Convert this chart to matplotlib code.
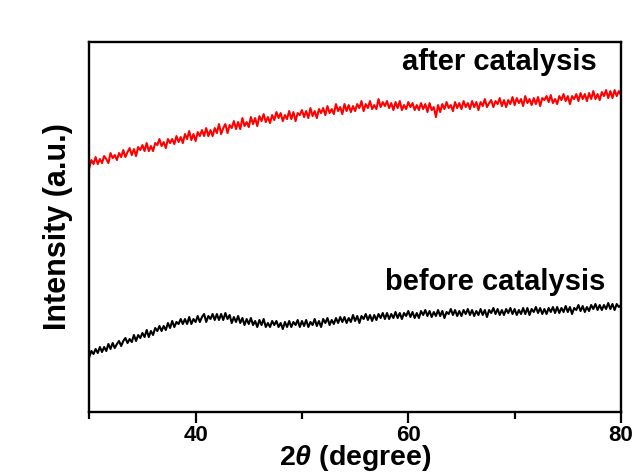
import numpy as np
import matplotlib
matplotlib.use("Agg")
import matplotlib.pyplot as plt
from matplotlib.ticker import FixedLocator, NullLocator

plt.rcParams['font.family'] = ['Liberation Sans', 'DejaVu Sans']
plt.rcParams['font.weight'] = 'bold'
plt.rcParams['mathtext.fontset'] = 'custom'
plt.rcParams['mathtext.it'] = 'Liberation Sans:italic'

# xrd intensity, 5 values per degree (step 0.2) from 30 to 80
after_catalysis = [
    244, 252, 248, 255, 248,  253, 249, 256, 253, 249,  259, 254, 257, 252, 259,
    255, 262, 255, 260, 264,  257, 263, 256, 265, 262,  267, 261, 269, 261, 266,
    261, 269, 267, 273, 266,  270, 264, 273, 269, 273,  268, 276, 270, 275, 269,
    278, 273, 281, 272, 278,  271, 280, 276, 282, 276,  284, 276, 282, 276, 284,
    279, 288, 278, 284, 288,  279, 287, 284, 291, 283,  290, 283, 294, 286, 290,
    285, 295, 288, 294, 286,  296, 291, 298, 290, 295,  289, 297, 292, 300, 294,
    299, 291, 297, 293, 301,  293, 300, 291, 299, 297,  302, 295, 301, 294, 304,
    296, 301, 294, 303, 299,  304, 297, 306, 299, 303,  298, 308, 301, 305, 298,
    308, 301, 307, 300, 306,  301, 308, 304, 311, 301,  308, 304, 311, 303, 307,
    303, 313, 305, 310, 306,  311, 304, 309, 302, 310,  304, 311, 302, 307, 303,
    310, 305, 309, 302, 307,  302, 309, 303, 308, 300,  309, 302, 305, 295, 307,
    300, 308, 303, 310, 304,  307, 301, 310, 304, 309,  303, 311, 305, 309, 303,
    311, 305, 310, 302, 310,  306, 313, 305, 309, 312,  305, 311, 308, 314, 306,
    312, 305, 312, 308, 315,  307, 314, 309, 313, 306,  316, 309, 313, 307, 314,
    308, 315, 306, 314, 312,  316, 310, 317, 309, 313,  308, 316, 312, 318, 311,
    316, 308, 316, 313, 318,  311, 319, 313, 318, 311,  319, 313, 321, 313, 318,
    312, 320, 316, 322, 314,  321, 314, 322, 316, 321,  317,
]
before_catalysis = [
    55, 61, 58, 63, 59,  65, 60, 65, 61, 68,  63, 69, 64, 68, 71,
    66, 71, 74, 69, 73,  70, 77, 71, 77, 74,  79, 75, 82, 75, 81,
    77, 84, 81, 86, 81,  86, 82, 89, 84, 91,  85, 90, 88, 93, 88,
    93, 88, 95, 88, 93,  90, 96, 90, 95, 98,  90, 96, 93, 98, 92,
    98, 92, 98, 92, 99,  93, 97, 89, 95, 90,  96, 89, 94, 87, 93,
    88, 94, 87, 91, 85,  92, 87, 93, 85, 89,  85, 91, 87, 91, 85,
    89, 83, 90, 85, 91,  85, 90, 87, 92, 85,  91, 86, 92, 85, 90,
    87, 93, 86, 91, 85,  93, 89, 94, 87, 92,  88, 94, 89, 95, 90,
    95, 89, 94, 90, 97,  91, 96, 89, 96, 93,  98, 92, 97, 91, 97,
    92, 98, 94, 99, 93,  99, 93, 98, 94, 100,  94, 99, 93, 99, 96,
    101, 95, 100, 94, 99,  94, 101, 97, 102, 96,  101, 95, 100, 96, 102,
    96, 101, 94, 100, 98,  103, 97, 102, 96, 101,  96, 102, 98, 103, 97,
    102, 96, 101, 97, 103,  97, 102, 95, 102, 99,  104, 98, 103, 97, 102,
    97, 103, 99, 104, 98,  103, 97, 102, 98, 104,  98, 104, 97, 103, 100,
    105, 99, 104, 98, 103,  98, 104, 100, 105, 99,  105, 99, 104, 100, 106,
    100, 105, 98, 104, 102,  107, 101, 106, 100, 105,  101, 107, 103, 108, 102,
    107, 102, 107, 103, 109,  103, 108, 102, 108, 105,  107,
]
two_theta = np.linspace(30, 80, len(after_catalysis))

fig = plt.figure(figsize=(6.33, 4.73), dpi=100)
ax = fig.add_axes([0.141, 0.129, 0.84, 0.782])

ax.plot(two_theta, after_catalysis, color='red', lw=1.5)
ax.plot(two_theta, before_catalysis, color='black', lw=1.5)

ax.text(77.7, 350, 'after catalysis', ha='right', va='center', fontsize=21, fontweight='bold')
ax.text(78.5, 130, 'before catalysis', ha='right', va='center', fontsize=21, fontweight='bold')

ax.set_xlim(30, 80)
ax.set_ylim(0, 370)
ax.xaxis.set_major_locator(FixedLocator([40, 60, 80]))
ax.xaxis.set_minor_locator(FixedLocator([30, 50, 70]))
ax.yaxis.set_major_locator(NullLocator())
ax.tick_params(axis='x', which='major', direction='out', length=8, width=1.6, labelsize=16, pad=1.5)
ax.tick_params(axis='x', which='minor', direction='out', length=5, width=1.6)
for s in ax.spines.values():
    s.set_linewidth(1.7)

ax.set_xlabel('2$\\it{\\theta}$ (degree)', fontsize=20.5, fontweight='bold', labelpad=-2.5)
ax.set_ylabel('Intensity (a.u.)', fontsize=22, fontweight='bold', labelpad=12)

fig.savefig('out.png', dpi=100)
